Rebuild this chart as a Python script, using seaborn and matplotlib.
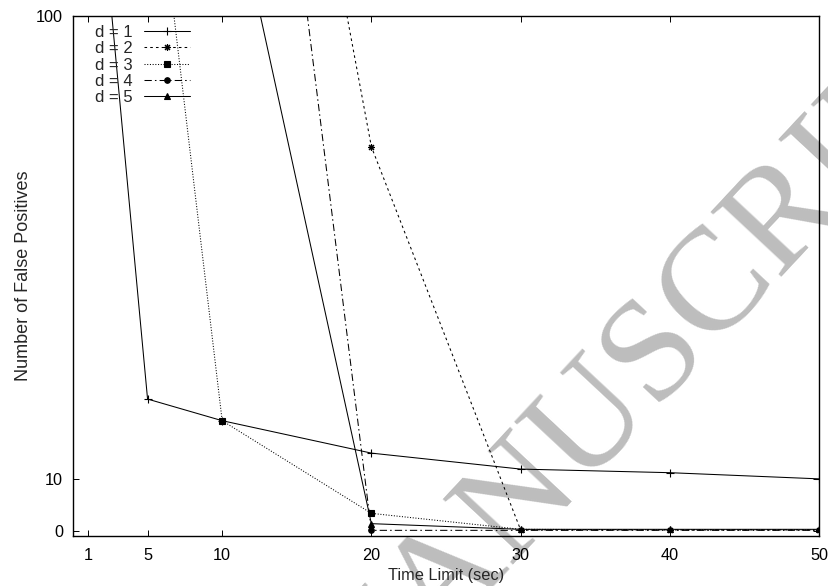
import matplotlib
matplotlib.use("Agg")
import matplotlib.pyplot as plt
import seaborn as sns

# values; points above 100 only fix the slope of the
# segment that enters the plot from the top
d1_x = [1, 5, 10, 20, 30, 40, 50]
d1_y = [150, 25.6, 21.4, 15.1, 12.0, 11.3, 10.1]
d2_x = [10, 20, 30, 40, 50]
d2_y = [230, 74.6, 0.2, 0.2, 0.2]
d3_x = [5, 10, 20, 30, 40, 50]
d3_y = [143, 21.4, 3.4, 0.3, 0.2, 0.2]
d4_x = [10, 20, 30, 40, 50]
d4_y = [233, 0.1, 0.1, 0.1, 0.1]
d5_x = [10, 20, 30, 40, 50]
d5_y = [134, 1.4, 0.3, 0.3, 0.3]

labels = ["d = 1", "d = 2", "d = 3", "d = 4", "d = 5"]
x_ticks = [1, 5, 10, 20, 30, 40, 50]
y_ticks = [0, 10, 100]

sns.set_style("ticks")
plt.rcParams["font.family"] = ["Liberation Sans", "DejaVu Sans"]

fig = plt.figure(figsize=(8.29, 5.86), dpi=100)
ax = fig.add_axes([0.088, 0.0853, 0.900, 0.8874])
ax.patch.set_alpha(0)

# gnuplot-like styles: (marker, linestyle, markersize, which points get a marker)
# the squares / circles on the zero line are hidden in the reference
styles = [
    ("+", "-", 5.5, None),
    ((8, 2, 0), (0, (2.5, 3)), 5, None),
    ("s", (0, (1, 1.6)), 4.5, [1, 2]),
    ("o", (0, (7, 3, 1.5, 3)), 4, [1]),
    ("^", "-", 4, None),
]
series = [(d1_x, d1_y), (d2_x, d2_y), (d3_x, d3_y), (d4_x, d4_y), (d5_x, d5_y)]

for (xs, ys), lab, (mk, ls, ms, every) in zip(series, labels, styles):
    sns.lineplot(x=xs, y=ys, ax=ax, color="black", marker=mk, linestyle=ls,
                 linewidth=0.75, ms=ms, mec="black", mew=0.8, label=lab,
                 markevery=every, errorbar=None, sort=False, zorder=3)

ax.set_xlim(0, 50)
ax.set_ylim(-1, 100)
ax.set_xticks(x_ticks)
ax.set_yticks(y_ticks)
ax.tick_params(direction="in", length=4.5, width=0.7, top=True, right=True,
               labelsize=11.7, colors="black")
ax.tick_params(axis="x", pad=8.5)
ax.tick_params(axis="y", pad=7)
for sp in ax.spines.values():
    sp.set_visible(True)
    sp.set_linewidth(1.0)
    sp.set_color("black")

ax.set_xlabel("Time Limit (sec)", fontsize=11.8, labelpad=4)
ax.set_ylabel("Number of False Positives", fontsize=13, labelpad=3)

ax.legend(loc="upper left", bbox_to_anchor=(0.0295, 0.983), frameon=False,
          markerfirst=False, numpoints=1, fontsize=12, handlelength=2.8,
          handletextpad=0.65, labelspacing=0.08, borderaxespad=0,
          borderpad=0)

# journal watermark, behind the curves
fig.text(0.779, 0.375, "MANUSCRIPT", rotation=47, fontsize=106,
         family="Liberation Serif", color="#bdbdbd", ha="center", va="center",
         zorder=-1)

fig.savefig("out.png", dpi=100)
